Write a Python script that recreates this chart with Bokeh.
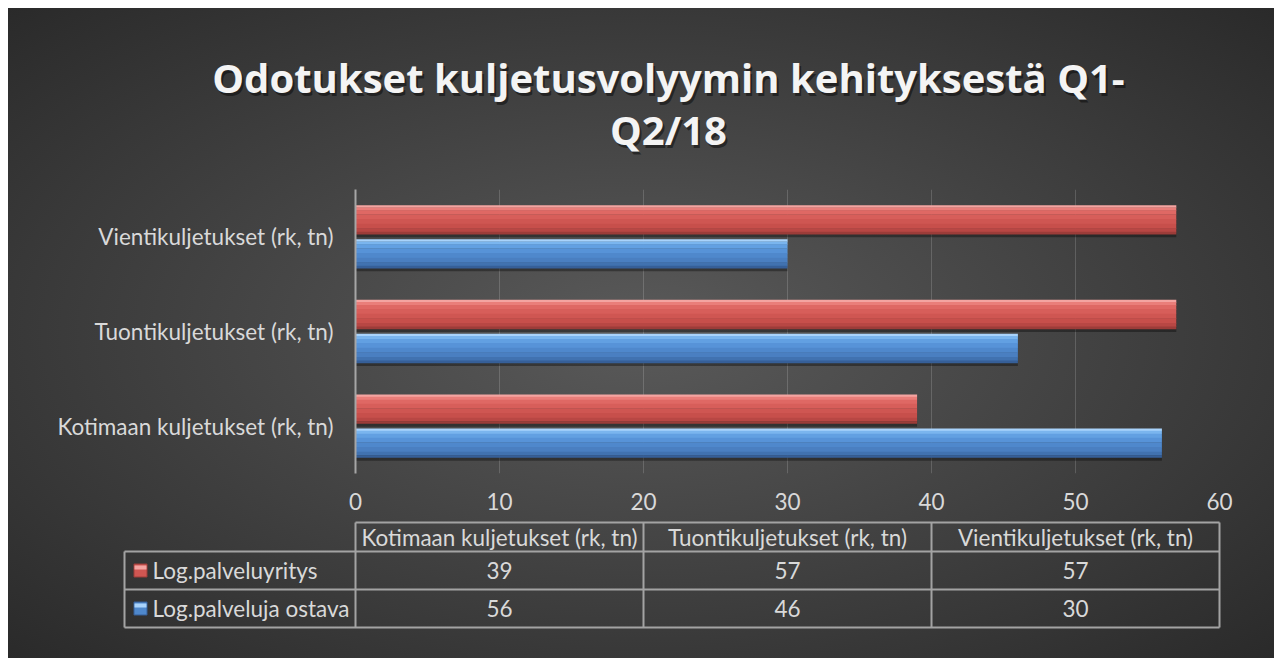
from bokeh.plotting import figure
from bokeh.layouts import column
from bokeh.models import Range1d, FactorRange, ColumnDataSource
from bokeh.transform import dodge
from bokeh.embed import file_html
from bokeh.resources import INLINE
from bokeh.core.properties import value

# ---------------- data ----------------
categories = ["Kotimaan kuljetukset (rk, tn)", "Tuontikuljetukset (rk, tn)", "Vientikuljetukset (rk, tn)"]
series_names = ["Log.palveluyritys", "Log.palveluja ostava"]
palveluyritys = [39, 57, 57]
palveluja_ostava = [56, 46, 30]
x_ticks = [0, 10, 20, 30, 40, 50, 60]
title_lines = ["Odotukset kuljetusvolyymin kehityksestä Q1-", "Q2/18"]

# ---------------- layout constants ----------------
W = 1266
H_TITLE = 175
H_MAIN = 335
H_TABLE = 140
X_MAX = 60
FRAME_L, FRAME_R = 347, 1211
FONT = "Lato"
TITLE_FONT = "Open Sans"
TXT = "#d9d9d9"
FS = "22.5px"
PPU = (FRAME_R - FRAME_L) / X_MAX
X_LO, X_HI = -FRAME_L / PPU, (W - FRAME_L) / PPU


def bare(fig):
    fig.background_fill_color = None
    fig.border_fill_color = None
    fig.outline_line_color = None
    fig.frame_align = False
    return fig


# ---------------- title ----------------
h = bare(figure(width=W, height=H_TITLE, x_range=Range1d(X_LO, X_HI), y_range=Range1d(H_TITLE, 0),
                output_backend="svg", toolbar_location=None, min_border=0))
h.axis.visible = False
h.grid.visible = False
title_x = [(668 - 8 - FRAME_L) / PPU] * 2
title_y = [69, 121]
h.text(x=[v + 2 / PPU for v in title_x], y=[v + 2.5 for v in title_y], text=title_lines,
       text_align="center", text_baseline="middle", text_font=value(TITLE_FONT), text_font_style="bold",
       text_font_size="40px", text_color="black", text_alpha=0.45)
h.text(x=title_x, y=title_y, text=title_lines, text_align="center", text_baseline="middle",
       text_font=value(TITLE_FONT), text_font_style="bold", text_font_size="40px", text_color="#f4f4f4")

# ---------------- main bar chart ----------------
src = ColumnDataSource(dict(cat=categories, a=palveluyritys, b=palveluja_ostava))

p = bare(figure(width=W, height=H_MAIN, y_range=FactorRange(*categories), x_range=Range1d(0, X_MAX),
                output_backend="svg", toolbar_location=None,
                min_border_left=FRAME_L, min_border_right=W - FRAME_R,
                min_border_top=6, min_border_bottom=45))

p.xgrid.ticker = x_ticks
p.xgrid.grid_line_color = "white"
p.xgrid.grid_line_alpha = 0.16
p.ygrid.grid_line_color = None

p.xaxis.ticker = x_ticks
p.xaxis.axis_line_color = None
p.xaxis.major_tick_line_color = None
p.xaxis.minor_tick_line_color = None
p.xaxis.major_label_text_font = FONT
p.xaxis.major_label_text_font_size = FS
p.xaxis.major_label_text_color = TXT
p.xaxis.major_label_standoff = 13

p.yaxis.axis_line_color = "#a6a6a6"
p.yaxis.axis_line_width = 2
p.yaxis.major_tick_line_color = None
p.yaxis.minor_tick_line_color = None
p.yaxis.major_label_text_font = FONT
p.yaxis.major_label_text_font_size = FS
p.yaxis.major_label_text_color = TXT
p.yaxis.major_label_standoff = 16

BAND_PX = 284.0
PX = 3.0 / BAND_PX  # one pixel in category units
BAR_H = 29 * PX
OFF = 17 * PX

red_strips = [(0.00, 0.08, "#f4a4a1"), (0.08, 0.18, "#ea7e7a"), (0.18, 0.32, "#df6864"),
              (0.32, 0.48, "#d75e5a"), (0.48, 0.64, "#cf5652"), (0.64, 0.80, "#c74f4b"),
              (0.80, 0.92, "#b84744"), (0.92, 1.00, "#9c3c39")]
blue_strips = [(0.00, 0.08, "#a9d3fb"), (0.08, 0.18, "#7ab5ee"), (0.18, 0.32, "#62a0e2"),
               (0.32, 0.48, "#5793d8"), (0.48, 0.64, "#4f88cc"), (0.64, 0.80, "#4a7fc1"),
               (0.80, 0.92, "#4172b0"), (0.92, 1.00, "#365f98")]

for field, off, strips in [("a", OFF, red_strips), ("b", -OFF, blue_strips)]:
    # drop shadow
    p.hbar(y=dodge("cat", off - 3 * PX, range=p.y_range), left=0, right=field, height=BAR_H,
           source=src, fill_color="black", fill_alpha=0.35, line_color=None)
    for f0, f1, col in strips:
        centre = off + BAR_H / 2 - BAR_H * (f0 + f1) / 2
        p.hbar(y=dodge("cat", centre, range=p.y_range), left=0, right=field,
               height=BAR_H * (f1 - f0) + 0.4 * PX, source=src,
               fill_color=col, line_color=None)

# ---------------- data table ----------------
t = bare(figure(width=W, height=H_TABLE, x_range=Range1d(X_LO, X_HI), y_range=Range1d(H_TABLE, 0),
                output_backend="svg", toolbar_location=None, min_border=0))
t.axis.visible = False
t.grid.visible = False

ROW_Y = [4, 33, 71, 109]
LEG_LEFT = (124 - 8 - FRAME_L) / PPU
LINE_COL = "#a3a3a3"
ncat = len(categories)
bounds = [X_MAX * k / ncat for k in range(ncat + 1)]
centres = [(bounds[k] + bounds[k + 1]) / 2 for k in range(ncat)]

t.segment(x0=[0], x1=[X_MAX], y0=[ROW_Y[0]], y1=[ROW_Y[0]], line_color=LINE_COL, line_width=2)
t.segment(x0=[LEG_LEFT] * 3, x1=[X_MAX] * 3, y0=ROW_Y[1:], y1=ROW_Y[1:], line_color=LINE_COL, line_width=2)
t.segment(x0=bounds, x1=bounds, y0=[ROW_Y[0]] * len(bounds), y1=[ROW_Y[3]] * len(bounds),
          line_color=LINE_COL, line_width=2)
t.segment(x0=[LEG_LEFT], x1=[LEG_LEFT], y0=[ROW_Y[1]], y1=[ROW_Y[3]], line_color=LINE_COL, line_width=2)

hdr_y = (ROW_Y[0] + ROW_Y[1]) / 2
row_y = [(ROW_Y[1] + ROW_Y[2]) / 2, (ROW_Y[2] + ROW_Y[3]) / 2]

t.text(x=centres, y=[hdr_y] * ncat, text=categories, text_align="center", text_baseline="middle",
       text_font=value(FONT), text_font_size=FS, text_color=TXT)
for vals, yy in [(palveluyritys, row_y[0]), (palveluja_ostava, row_y[1])]:
    t.text(x=centres, y=[yy] * ncat, text=[str(v) for v in vals], text_align="center",
           text_baseline="middle", text_font=value(FONT), text_font_size=FS, text_color=TXT)

leg_text_x = (152 - 8 - FRAME_L) / PPU
leg_mark_x = (140 - 8 - FRAME_L) / PPU
t.text(x=[leg_text_x] * 2, y=row_y, text=series_names, text_align="left", text_baseline="middle",
       text_font=value(FONT), text_font_size=FS, text_color=TXT)
t.rect(x=[leg_mark_x] * 2, y=row_y, width=13, height=13, width_units="screen", height_units="screen",
       fill_color=[red_strips[4][2], blue_strips[4][2]], line_color=[red_strips[7][2], blue_strips[7][2]])
t.rect(x=[leg_mark_x] * 2, y=[yy - 3 for yy in row_y], width=12, height=4, width_units="screen",
       height_units="screen", fill_color=[red_strips[0][2], blue_strips[0][2]], line_color=None)

layout = column(h, p, t, styles={
    "margin": "8px 0 0 8px",
    "background": "radial-gradient(ellipse at 50% 50%, #5a5a5a 0%, #2a2a2a 100%)",
})

open("out.html", "w").write(file_html(layout, INLINE))
